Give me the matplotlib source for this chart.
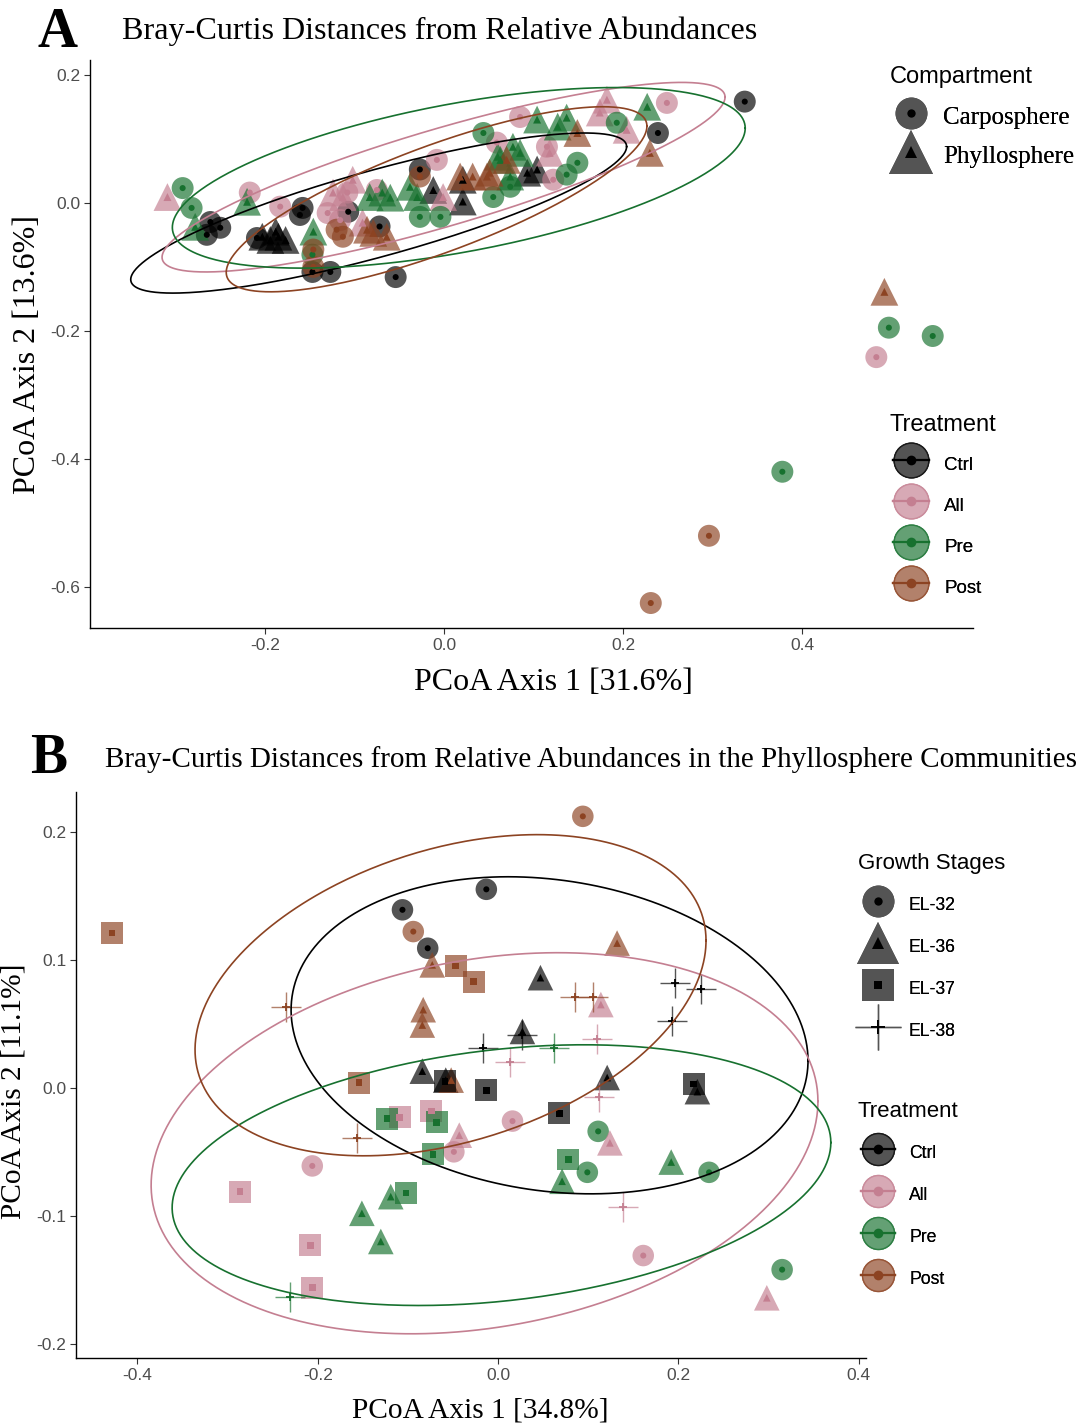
import numpy as np
import matplotlib
matplotlib.use("Agg")
import matplotlib.pyplot as plt
from matplotlib.lines import Line2D
from matplotlib.legend_handler import HandlerTuple
from matplotlib.colors import to_rgb

plt.rcParams['axes.unicode_minus'] = False
SANS = ['Liberation Sans', 'DejaVu Sans']
SERIF = ['Liberation Serif', 'DejaVu Serif']

# ---------------- data ----------------
treatments = ['Ctrl', 'All', 'Pre', 'Post']
compartments = ['Carposphere', 'Phyllosphere']
stages = ['EL-32', 'EL-36', 'EL-37', 'EL-38']
trt_colors = ['#000000', '#c47f91', '#17712f', '#8c4322']

# Panel A (PCoA axis 1 / axis 2)
a_carpo_ctrl_x = [0.336, 0.239, -0.054, -0.127, -0.147, -0.261, -0.250, -0.265, -0.209, -0.158, -0.161, -0.027, -0.107, -0.072]
a_carpo_ctrl_y = [0.158, 0.109, -0.116, -0.108, -0.108, -0.030, -0.039, -0.050, -0.055, -0.008, -0.019, 0.052, -0.014, -0.037]
a_carpo_all_x = [-0.217, -0.183, -0.130, -0.116, -0.108, -0.075, -0.008, 0.085, 0.059, 0.115, 0.122, 0.249, 0.483]
a_carpo_all_y = [0.016, -0.006, -0.016, -0.027, 0.016, 0.020, 0.067, 0.134, 0.094, 0.0875, 0.036, 0.156, -0.241]
a_carpo_pre_x = [-0.292, -0.282, 0.044, 0.193, 0.149, 0.137, 0.055, 0.074, -0.027, -0.004, -0.147, 0.497, 0.546, 0.378]
a_carpo_pre_y = [0.023, -0.008, 0.109, 0.125, 0.0625, 0.044, 0.009, 0.025, -0.022, -0.022, -0.081, -0.195, -0.208, -0.420]
a_carpo_post_x = [-0.146, -0.120, -0.113, -0.146, -0.027, 0.296, 0.231]
a_carpo_post_y = [-0.100, -0.042, -0.053, -0.073, 0.041, -0.520, -0.625]

a_phyllo_ctrl_x = [-0.203, -0.194, -0.185, -0.177, -0.188, -0.012, 0.021, 0.021, 0.104, 0.093]
a_phyllo_ctrl_y = [-0.053, -0.058, -0.053, -0.058, -0.045, 0.020, 0.036, 0.002, 0.052, 0.047]
a_phyllo_all_x = [-0.309, -0.124, -0.113, -0.102, -0.091, -0.001, 0.118, 0.182, 0.174, 0.204]
a_phyllo_all_y = [0.009, 0.016, 0.009, 0.036, -0.031, 0.009, 0.078, 0.161, 0.141, 0.114]
a_phyllo_pre_x = [-0.278, -0.220, -0.146, -0.083, -0.069, -0.060, -0.038, -0.030, 0.063, 0.085, 0.104, 0.127, 0.137, 0.227, 0.060, 0.077, 0.074]
a_phyllo_pre_y = [-0.0375, 0.0016, -0.045, 0.009, 0.016, 0.008, 0.025, 0.009, 0.067, 0.078, 0.130, 0.119, 0.133, 0.150, 0.072, 0.0875, 0.041]
a_phyllo_post_x = [-0.086, -0.079, -0.064, 0.018, 0.032, 0.048, 0.051, 0.070, 0.149, 0.230, 0.492]
a_phyllo_post_y = [-0.042, -0.047, -0.053, 0.041, 0.041, 0.041, 0.047, 0.067, 0.109, 0.078, -0.139]

# Panel A ellipse summaries (Ctrl, All, Pre, Post): centre, half-extents, correlation
a_ell_cx = [-0.073, -0.0005, 0.0165, -0.0083]
a_ell_cy = [-0.016, 0.040, 0.039, 0.0055]
a_ell_ax = [0.277, 0.3145, 0.320, 0.235]
a_ell_ay = [0.125, 0.148, 0.141, 0.1445]
a_ell_rho = [0.83, 0.845, 0.55, 0.79]

# Panel B (phyllosphere only)
b_el32_ctrl_x = [-0.013, -0.106, -0.078]
b_el32_ctrl_y = [0.155, 0.139, 0.109]
b_el32_all_x = [0.016, -0.206, -0.049, 0.161]
b_el32_all_y = [-0.026, -0.061, -0.050, -0.131]
b_el32_pre_x = [0.111, 0.099, 0.234, 0.315]
b_el32_pre_y = [-0.034, -0.066, -0.066, -0.142]
b_el32_post_x = [0.094, -0.094]
b_el32_post_y = [0.212, 0.122]

b_el36_ctrl_x = [0.047, 0.027, -0.084, -0.058, 0.121, 0.221]
b_el36_ctrl_y = [0.086, 0.044, 0.013, 0.006, 0.008, -0.003]
b_el36_all_x = [0.114, -0.043, 0.124, 0.298]
b_el36_all_y = [0.065, -0.037, -0.043, -0.164]
b_el36_pre_x = [0.192, 0.071, -0.119, -0.151, -0.130]
b_el36_pre_y = [-0.058, -0.073, -0.085, -0.098, -0.120]
b_el36_post_x = [0.132, -0.073, -0.083, -0.084, -0.052]
b_el36_post_y = [0.113, 0.096, 0.061, 0.049, 0.006]

b_el37_ctrl_x = [-0.013, -0.059, 0.068, 0.217]
b_el37_ctrl_y = [-0.002, 0.005, -0.020, 0.003]
b_el37_all_x = [-0.109, -0.074, -0.286, -0.208, -0.206]
b_el37_all_y = [-0.023, -0.018, -0.081, -0.123, -0.156]
b_el37_pre_x = [-0.123, -0.068, -0.072, 0.078, -0.102]
b_el37_pre_y = [-0.024, -0.027, -0.052, -0.056, -0.082]
b_el37_post_x = [-0.428, -0.047, -0.027, -0.154]
b_el37_post_y = [0.121, 0.095, 0.083, 0.004]

b_el38_ctrl_x = [0.196, 0.225, 0.193, 0.026, -0.017]
b_el38_ctrl_y = [0.082, 0.077, 0.052, 0.041, 0.031]
b_el38_all_x = [0.013, 0.110, 0.112, 0.139]
b_el38_all_y = [0.020, 0.038, -0.007, -0.093]
b_el38_pre_x = [0.062, -0.231]
b_el38_pre_y = [0.031, -0.163]
b_el38_post_x = [-0.235, 0.085, 0.105, -0.156]
b_el38_post_y = [0.063, 0.071, 0.071, -0.039]

b_ell_cx = [0.0571, -0.015, 0.0038, -0.0527]
b_ell_cy = [0.041, -0.0433, -0.0682, 0.0723]
b_ell_ax = [0.2866, 0.3697, 0.3652, 0.2833]
b_ell_ay = [0.1238, 0.1488, 0.1018, 0.1254]
b_ell_rho = [-0.16, 0.22, 0.25, 0.34]

a_xticks = [-0.2, 0.0, 0.2, 0.4]
a_yticks = [-0.6, -0.4, -0.2, 0.0, 0.2]
b_xticks = [-0.4, -0.2, 0.0, 0.2, 0.4]
b_yticks = [-0.2, -0.1, 0.0, 0.1, 0.2]

# ---------------- helpers ----------------
ALPHA = 0.67


def blend(col, a):
    r, g, b = to_rgb(col)
    return (r * a + (1 - a), g * a + (1 - a), b * a + (1 - a))


def ellipse_xy(cx, cy, hx, hy, rho, n=400):
    t = np.linspace(0, 2 * np.pi, n)
    d = np.arccos(rho)
    return cx + hx * np.cos(t), cy + hy * np.cos(t - d)


def draw_points(ax, xs, ys, color, marker, s_big, s_small):
    if marker == '+':
        ax.scatter(xs, ys, s=s_big, marker='+', c=color, alpha=ALPHA, linewidths=1.0, zorder=2)
        ax.scatter(xs, ys, s=s_small, marker='+', c=color, linewidths=1.3, zorder=3)
    else:
        ax.scatter(xs, ys, s=s_big, marker=marker, c=color, alpha=ALPHA, edgecolors='none', zorder=2)
        ax.scatter(xs, ys, s=s_small, marker=marker, c=color, edgecolors='none', zorder=3)


def style_axes(ax, xticks, yticks, xlim, ylim):
    ax.set_xlim(*xlim)
    ax.set_ylim(*ylim)
    ax.set_xticks(xticks)
    ax.set_yticks(yticks)
    ax.set_xticklabels(['%.1f' % v for v in xticks], fontfamily=SANS)
    ax.set_yticklabels(['%.1f' % v for v in yticks], fontfamily=SANS)
    for s in ['top', 'right']:
        ax.spines[s].set_visible(False)
    for s in ['left', 'bottom']:
        ax.spines[s].set_linewidth(1.0)
        ax.spines[s].set_color('black')
    ax.tick_params(length=4, width=0.8, color='#333333', labelsize=12.5,
                   labelcolor='#4d4d4d', pad=3)


fig = plt.figure(figsize=(10.83, 14.27), dpi=100)

# ---------------- Panel A ----------------
axA = fig.add_axes([90 / 1083, 1 - 628 / 1427, 883 / 1083, 568 / 1427])
carpo = [(a_carpo_ctrl_x, a_carpo_ctrl_y), (a_carpo_all_x, a_carpo_all_y),
         (a_carpo_pre_x, a_carpo_pre_y), (a_carpo_post_x, a_carpo_post_y)]
phyllo = [(a_phyllo_ctrl_x, a_phyllo_ctrl_y), (a_phyllo_all_x, a_phyllo_all_y),
          (a_phyllo_pre_x, a_phyllo_pre_y), (a_phyllo_post_x, a_phyllo_post_y)]
for i, col in enumerate(trt_colors):
    draw_points(axA, carpo[i][0], carpo[i][1], col, 'o', 250, 19)
    draw_points(axA, phyllo[i][0], phyllo[i][1], col, '^', 400, 33)
for i, col in enumerate(trt_colors):
    ex, ey = ellipse_xy(a_ell_cx[i], a_ell_cy[i], a_ell_ax[i], a_ell_ay[i], a_ell_rho[i])
    axA.plot(ex, ey, color=col, lw=1.2, zorder=4)
style_axes(axA, a_xticks, a_yticks, (-0.3955, 0.591), (-0.664, 0.223))

# ---------------- Panel B ----------------
axB = fig.add_axes([76 / 1083, 1 - 1358 / 1427, 790 / 1083, 566 / 1427])
b_groups = {
    'o': [(b_el32_ctrl_x, b_el32_ctrl_y), (b_el32_all_x, b_el32_all_y),
          (b_el32_pre_x, b_el32_pre_y), (b_el32_post_x, b_el32_post_y)],
    '^': [(b_el36_ctrl_x, b_el36_ctrl_y), (b_el36_all_x, b_el36_all_y),
          (b_el36_pre_x, b_el36_pre_y), (b_el36_post_x, b_el36_post_y)],
    's': [(b_el37_ctrl_x, b_el37_ctrl_y), (b_el37_all_x, b_el37_all_y),
          (b_el37_pre_x, b_el37_pre_y), (b_el37_post_x, b_el37_post_y)],
    '+': [(b_el38_ctrl_x, b_el38_ctrl_y), (b_el38_all_x, b_el38_all_y),
          (b_el38_pre_x, b_el38_pre_y), (b_el38_post_x, b_el38_post_y)],
}
b_sizes = {'o': (240, 19), '^': (340, 30), 's': (250, 22), '+': (460, 40)}
for mk, groups in b_groups.items():
    for i, col in enumerate(trt_colors):
        draw_points(axB, groups[i][0], groups[i][1], col, mk, *b_sizes[mk])
for i, col in enumerate(trt_colors):
    ex, ey = ellipse_xy(b_ell_cx[i], b_ell_cy[i], b_ell_ax[i], b_ell_ay[i], b_ell_rho[i])
    axB.plot(ex, ey, color=col, lw=1.2, zorder=4)
style_axes(axB, b_xticks, b_yticks, (-0.468, 0.408), (-0.211, 0.231))

# ---------------- Titles / labels ----------------
fig.text(38 / 1083, 1 - 47 / 1427, 'A', fontfamily=SERIF, fontweight='bold', fontsize=40, va='baseline')
fig.text(122 / 1083, 1 - 39 / 1427, 'Bray-Curtis Distances from Relative Abundances',
         fontfamily=SERIF, fontsize=23.1, va='baseline')
fig.text(553 / 1083, 1 - 690 / 1427, 'PCoA Axis 1 [31.6%]', fontfamily=SERIF, fontsize=23.0,
         ha='center', va='baseline')
fig.text(28 / 1083, 1 - 355 / 1427, 'PCoA Axis 2 [13.6%]', fontfamily=SERIF, fontsize=23.0,
         ha='center', va='center', rotation=90)

fig.text(30 / 1083, 1 - 773 / 1427, 'B', fontfamily=SERIF, fontweight='bold', fontsize=40, va='baseline')
fig.text(105 / 1083, 1 - 767 / 1427,
         'Bray-Curtis Distances from Relative Abundances in the Phyllosphere Communities',
         fontfamily=SERIF, fontsize=21.0, va='baseline')
fig.text(480 / 1083, 1 - 1418 / 1427, 'PCoA Axis 1 [34.8%]', fontfamily=SERIF, fontsize=21.2,
         ha='center', va='baseline')
fig.text(14 / 1083, 1 - 1091 / 1427, 'PCoA Axis 2 [11.1%]', fontfamily=SERIF, fontsize=21.2,
         ha='center', va='center', rotation=90)

# ---------------- Legends ----------------
GREY = '#000000'
TUPLE = {tuple: HandlerTuple(ndivide=1, pad=0)}


def shape_handle(marker, ms, ms_in):
    if marker == '+':
        big = Line2D([], [], ls='none', marker='+', ms=ms, color=blend(GREY, ALPHA), mew=1.0)
        small = Line2D([], [], ls='none', marker='+', ms=ms_in, color=GREY, mew=1.3)
    else:
        big = Line2D([], [], ls='none', marker=marker, ms=ms, color=blend(GREY, ALPHA), mew=0)
        small = Line2D([], [], ls='none', marker=marker, ms=ms_in, color=GREY, mew=0)
    return (big, small)


def trt_handle(col, ms):
    big = Line2D([], [], ls='none', marker='o', ms=ms, markerfacecolor=blend(col, ALPHA),
                 markeredgecolor=blend(col, 0.9), mew=1.0)
    line = Line2D([], [], color=col, lw=1.6)
    small = Line2D([], [], ls='none', marker='o', ms=7, color=col, mew=0)
    return (big, line, small)


def legend_block(handles, labels, title, title_size, title_xy, anchor_xy, prop,
                 hl, hh, htp, ls):
    fig.text(title_xy[0] / 1083, 1 - title_xy[1] / 1427, title, fontfamily=SANS,
             fontsize=title_size, va='baseline')
    leg = fig.legend(handles, labels, loc='center left',
                     bbox_to_anchor=(anchor_xy[0] / 1083, 1 - anchor_xy[1] / 1427),
                     frameon=False, prop=prop, handler_map=TUPLE,
                     handlelength=hl, handleheight=hh, handletextpad=htp,
                     labelspacing=ls, borderpad=0, borderaxespad=0)
    fig.add_artist(leg)
    return leg


legend_block([shape_handle('o', 23, 6), shape_handle('^', 31, 8)], compartments,
             'Compartment', 17, (890, 83), (891, 135.5),
             {'family': SERIF, 'size': 18}, 1.6, 1.5, 0.48, 0.34)

legend_block([trt_handle(c, 25) for c in trt_colors], treatments,
             'Treatment', 17, (890, 431), (893, 525.5),
             {'family': SANS, 'size': 13.5}, 1.92, 1.8, 0.8, 0.77)

legend_block([shape_handle('o', 23, 6), shape_handle('^', 30, 8),
              shape_handle('s', 22.5, 6), shape_handle('+', 33, 10)], stages,
             'Growth Stages', 16, (858, 869), (855, 967),
             {'family': SANS, 'size': 12.7}, 2.6, 1.8, 0.45, 0.97)

legend_block([trt_handle(c, 23) for c in trt_colors], treatments,
             'Treatment', 16, (858, 1117), (861, 1215),
             {'family': SANS, 'size': 12.7}, 1.93, 1.8, 0.8, 0.97)

fig.savefig('out.png', dpi=100)
